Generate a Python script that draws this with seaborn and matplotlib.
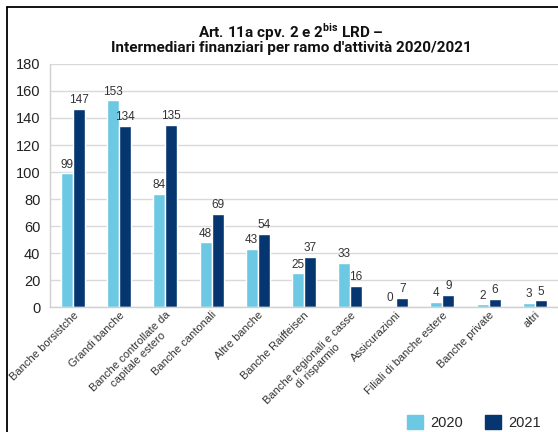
import matplotlib
matplotlib.use("Agg")
import matplotlib.pyplot as plt
from matplotlib.lines import Line2D
import seaborn as sns
import pandas as pd

# dati
categorie = ["Banche borsistche", "Grandi banche", "Banche controllate da\ncapitale estero",
             "Banche cantonali", "Altre banche", "Banche Raiffeisen",
             "Banche regionali e casse\ndi risparmio", "Assicurazioni",
             "Filiali di banche estere", "Banche private", "altri"]
val_2020 = [99, 153, 84, 48, 43, 25, 33, 0, 4, 2, 3]
val_2021 = [147, 134, 135, 69, 54, 37, 16, 7, 9, 6, 5]
anni = ["2020", "2021"]

df = pd.DataFrame({
    "categoria": categorie * 2,
    "anno": [anni[0]] * len(categorie) + [anni[1]] * len(categorie),
    "valore": val_2020 + val_2021,
})

sns.set_theme(style="white")
plt.rcParams["font.family"] = ["Liberation Sans", "DejaVu Sans"]
plt.rcParams["mathtext.fontset"] = "custom"
plt.rcParams["mathtext.bf"] = "Roboto:bold"
plt.rcParams["mathtext.rm"] = "Roboto:bold"

fig = plt.figure(figsize=(5.58, 4.32), dpi=100)
ax = fig.add_axes([0.0896, 0.289, 0.91, 0.563])

colori = {"2020": "#6DC8E3", "2021": "#053670"}
sns.barplot(data=df, x="categoria", y="valore", hue="anno", palette=colori,
            width=0.52, gap=0, ax=ax, legend=False, saturation=1)

for cont in ax.containers:
    ax.bar_label(cont, padding=2, fontsize=8.5, color="#333333")

ax.set_ylim(0, 180)
ax.set_yticks(range(0, 181, 20))
ax.set_xlim(-0.5, len(categorie) - 0.5)
ax.yaxis.grid(True, color="#d9d9d9", linewidth=1)
ax.set_axisbelow(True)
ax.set_xlabel("")
ax.set_ylabel("")
ax.tick_params(axis="y", length=0, labelsize=10.5, labelcolor="#222222", pad=7)
ax.tick_params(axis="x", length=0, labelsize=8, labelcolor="#333333", pad=2)
for lab in ax.get_xticklabels():
    lab.set_rotation(45)
    lab.set_ha("right")
    lab.set_rotation_mode("anchor")
    lab.set_multialignment("center")

for s in ["top", "right"]:
    ax.spines[s].set_visible(False)
for s in ["left", "bottom"]:
    ax.spines[s].set_color("#d0d0d0")
    ax.spines[s].set_linewidth(1)

fig.text(0.522, 0.925, "Art. 11a cpv. 2 e 2$^{\\mathbf{bis}}$ LRD \u2013", ha="center", va="center",
         fontsize=11, fontweight="bold", family="Roboto", color="#111111")
fig.text(0.522, 0.888, "Intermediari finanziari per ramo d'attività 2020/2021", ha="center",
         va="center", fontsize=11, fontweight="bold", family="Roboto", color="#111111")

handles = [plt.Rectangle((0, 0), 1, 1, color=colori[a]) for a in anni]
fig.legend(handles, anni, loc="center", bbox_to_anchor=(0.85, 0.023), ncol=2, frameon=False,
           fontsize=10.5, handlelength=1.1, handleheight=1.1, columnspacing=1.5, handletextpad=0.5)

# cornice nera in alto e a sinistra
fig.add_artist(Line2D([7 / 558, 1], [1 - 7 / 432, 1 - 7 / 432], color="black", linewidth=1.3,
                      transform=fig.transFigure))
fig.add_artist(Line2D([7 / 558, 7 / 558], [0, 1 - 7 / 432], color="black", linewidth=1.3,
                      transform=fig.transFigure))

fig.savefig("out.png", dpi=100)
